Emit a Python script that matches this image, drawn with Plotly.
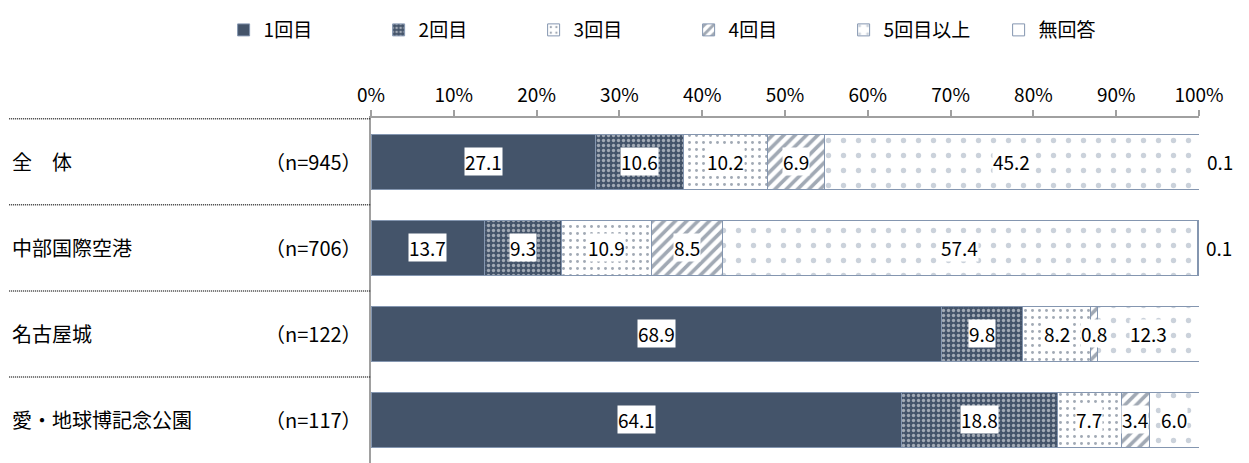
import plotly.graph_objects as go

# data
groups = ["全　体", "中部国際空港", "名古屋城", "愛・地球博記念公園"]
sample_sizes = ["（n=945）", "（n=706）", "（n=122）", "（n=117）"]
series_names = ["1回目", "2回目", "3回目", "4回目", "5回目以上", "無回答"]
visit_1 = [27.1, 13.7, 68.9, 64.1]
visit_2 = [10.6, 9.3, 9.8, 18.8]
visit_3 = [10.2, 10.9, 8.2, 7.7]
visit_4 = [6.9, 8.5, 0.8, 3.4]
visit_5plus = [45.2, 57.4, 12.3, 6.0]
no_answer = [0.1, 0.1, 0.0, 0.0]
tick_vals = [0, 10, 20, 30, 40, 50, 60, 70, 80, 90, 100]
tick_text = ["0%", "10%", "20%", "30%", "40%", "50%", "60%", "70%", "80%", "90%", "100%"]

series = [visit_1, visit_2, visit_3, visit_4, visit_5plus, no_answer]

DARK = "#44546a"
EDGE = "#8496b0"
FONT = "Noto Sans CJK JP"

patterns = [
    dict(shape=""),
    dict(shape=".", fgcolor="white", bgcolor=DARK, size=5, solidity=0.35),
    dict(shape=".", fgcolor=DARK, bgcolor="white", size=7, solidity=0.14),
    dict(shape="/", fgcolor=DARK, bgcolor="white", size=8, solidity=0.45),
    dict(shape=".", fgcolor="#98a5b8", bgcolor="white", size=15, solidity=0.1),
    dict(shape=""),
]
colors = [DARK, DARK, "white", "white", "white", "white"]

fig = go.Figure()
for name, vals, pat, col in zip(series_names, series, patterns, colors):
    fig.add_trace(go.Bar(
        y=groups, x=vals, name=name, orientation="h",
        marker=dict(color=col, pattern=pat, line=dict(color=EDGE, width=1)),
        width=0.64,
    ))

# value labels with white boxes
annotations = []
for i, g in enumerate(groups):
    left = 0
    for j, vals in enumerate(series):
        v = vals[i]
        if v > 0:
            if j == len(series) - 1:
                annotations.append(dict(
                    x=min(left + v, 100), y=g, xref="x", yref="y", text=f"{v:.1f}",
                    showarrow=False, xanchor="left", xshift=6,
                    font=dict(size=19, color="black", family=FONT)))
            else:
                annotations.append(dict(
                    x=left + v / 2, y=g, xref="x", yref="y", text=f"{v:.1f}",
                    showarrow=False, bgcolor="white", borderpad=0,
                    font=dict(size=19, color="black", family=FONT)))
        left += v
    annotations.append(dict(
        x=-0.436, y=g, xref="paper", yref="y", text=g, showarrow=False,
        xanchor="left", font=dict(size=20, color="black", family=FONT)))
    annotations.append(dict(
        x=-0.008, y=g, xref="paper", yref="y", text=sample_sizes[i],
        showarrow=False, xanchor="right",
        font=dict(size=20, color="black", family=FONT)))

# dotted separators in the label column
shapes = []
for k in range(len(groups)):
    shapes.append(dict(
        type="line", xref="paper", yref="y", x0=-0.437, x1=0,
        y0=k - 0.5, y1=k - 0.5,
        line=dict(color="#333333", width=1.5, dash="1px,1px")))

fig.update_layout(
    barmode="stack",
    width=1241, height=455,
    margin=dict(l=363, r=50, t=110, b=0),
    plot_bgcolor="white", paper_bgcolor="white",
    font=dict(family=FONT, size=19, color="black"),
    legend=dict(
        orientation="h", xref="paper", yref="paper",
        x=-0.178, y=1.255, xanchor="left", yanchor="middle",
        entrywidth=110, entrywidthmode="pixels",
        font=dict(size=19), traceorder="normal",
    ),
    xaxis=dict(
        side="top", range=[0, 100], tickvals=tick_vals, ticktext=tick_text,
        showgrid=False, zeroline=False, showline=True, linecolor="#a0a0a0",
        linewidth=2, ticks="outside", ticklen=6, tickcolor="#a0a0a0",
        tickwidth=2, tickfont=dict(size=19),
    ),
    yaxis=dict(
        autorange="reversed", showticklabels=False, showgrid=False,
        showline=True, linecolor="#a0a0a0", linewidth=2, ticks="",
    ),
    annotations=annotations,
    shapes=shapes,
)

fig.write_html("out.html")
